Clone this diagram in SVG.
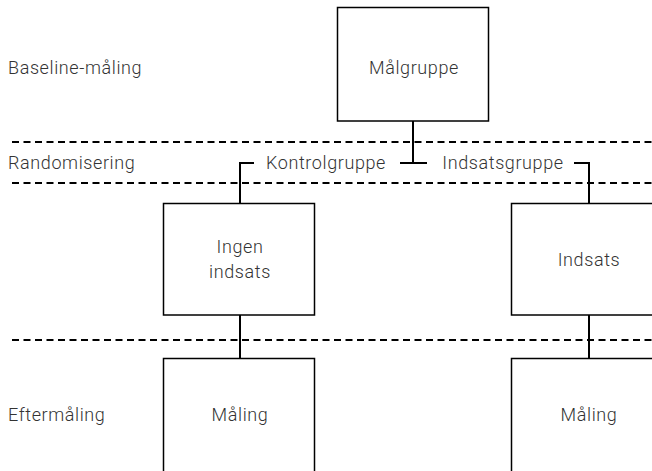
<svg xmlns="http://www.w3.org/2000/svg" width="652" height="471" viewBox="0 0 652 471">
<style>
.box{fill:#fff;stroke:#000;stroke-width:1.5}
.con{fill:none;stroke:#000;stroke-width:2}
.dash{fill:none;stroke:#000;stroke-width:2;stroke-dasharray:7 4.5}
text{font-family:Roboto,"Liberation Sans",sans-serif;font-size:18px;font-weight:300;letter-spacing:0.6px;fill:#333;dominant-baseline:central}
.c{text-anchor:middle}
</style>
<rect width="652" height="471" fill="#fff"/>
<g id="dividers">
<line class="dash" x1="12" y1="142" x2="652" y2="142"/>
<line class="dash" x1="12" y1="183" x2="652" y2="183"/>
<line class="dash" x1="12" y1="340" x2="652" y2="340"/>
</g>
<g id="row-labels">
<text x="8" y="67">Baseline-måling</text>
<text x="8" y="162">Randomisering</text>
<text x="8" y="414">Eftermåling</text>
</g>
<g id="connectors">
<line class="con" x1="413" y1="121" x2="413" y2="163"/>
<line class="con" x1="400" y1="163" x2="427" y2="163"/>
<polyline class="con" points="254,163 240,163 240,203"/>
<polyline class="con" points="574,163 589,163 589,203"/>
<line class="con" x1="240" y1="315" x2="240" y2="358"/>
<line class="con" x1="589" y1="315" x2="589" y2="358"/>
<text class="c" x="326" y="162">Kontrolgruppe</text>
<text class="c" x="503" y="162">Indsatsgruppe</text>
</g>
<g id="malgruppe">
<rect class="box" x="337.5" y="7.5" width="151" height="113.5"/>
<text class="c" x="414" y="67">Målgruppe</text>
</g>
<g id="ingen-indsats">
<rect class="box" x="163.5" y="203.5" width="151" height="111.5"/>
<text class="c" x="240" y="246">Ingen</text>
<text class="c" x="240" y="271">indsats</text>
</g>
<g id="indsats">
<rect class="box" x="511.5" y="203.5" width="151" height="111.5"/>
<text class="c" x="589" y="259">Indsats</text>
</g>
<g id="maling-1">
<rect class="box" x="163.5" y="358.5" width="151" height="120"/>
<text class="c" x="240" y="414">Måling</text>
</g>
<g id="maling-2">
<rect class="box" x="511.5" y="358.5" width="151" height="120"/>
<text class="c" x="589" y="414">Måling</text>
</g>
</svg>
